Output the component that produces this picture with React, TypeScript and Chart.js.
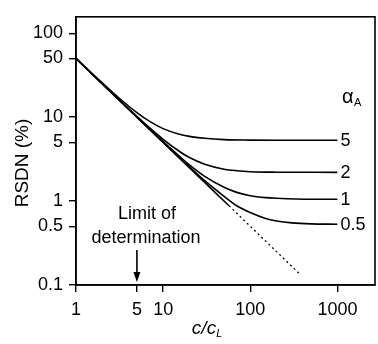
import React, { useEffect, useRef } from "react";
import { Chart, registerables } from "chart.js";

Chart.register(...registerables);

// Straight line RSDN = limit line (solid part, then dotted continuation)
const lineX = [1, 2, 5, 10, 20, 57];
const lineY = [50, 25, 10, 5, 2.5, 0.88];
const dottedX = [57, 100, 200, 370];
const dottedY = [0.88, 0.5, 0.25, 0.135];

// Curves for different alpha_A
const c5X = [1, 2, 3, 5, 7, 10, 15, 20, 30, 50, 100, 200, 1000];
const c5Y = [50.3, 25.6, 17.5, 11.3, 8.9, 7.3, 6.3, 5.9, 5.6, 5.4, 5.33, 5.3, 5.3];
const c2X = [1, 2, 5, 7, 10, 15, 20, 30, 50, 70, 100, 200, 1000];
const c2Y = [50, 25.1, 10.2, 7.45, 5.45, 3.98, 3.3, 2.75, 2.4, 2.3, 2.24, 2.21, 2.2];
const c1X = [1, 5, 10, 15, 20, 30, 50, 70, 100, 150, 200, 500, 1000];
const c1Y = [50, 10.05, 5.1, 3.5, 2.7, 1.97, 1.46, 1.27, 1.16, 1.1, 1.08, 1.05, 1.05];
const c05X = [1, 5, 10, 15, 20, 30, 50, 70, 100, 150, 200, 300, 500, 1000];
const c05Y = [50, 10, 5.03, 3.37, 2.56, 1.75, 1.14, 0.88, 0.73, 0.62, 0.58, 0.55, 0.535, 0.53];

const curveLabels = ["5", "2", "1", "0.5"];
const curveEndY = [5.3, 2.2, 1.05, 0.53];

const xTicks = [1, 5, 10, 100, 1000];
const yTicks = [0.1, 0.5, 1, 5, 10, 50, 100];

const FONT = "'Liberation Sans', Arial, sans-serif";

const zip = (xs: number[], ys: number[]) => xs.map((x, i) => ({ x, y: ys[i] }));

export default function App() {
  const ref = useRef<HTMLCanvasElement>(null);

  useEffect(() => {
    const canvas = ref.current!;
    const common = {
      borderColor: "#000",
      backgroundColor: "#000",
      pointRadius: 0,
      borderWidth: 1.6,
      fill: false,
      cubicInterpolationMode: "monotone" as const,
    };

    const annot = {
      id: "annot",
      afterDraw(chart: any) {
        const { ctx, chartArea, scales } = chart;
        const xs = scales.x;
        const ys = scales.y;
        ctx.save();
        // frame
        ctx.strokeStyle = "#000";
        ctx.lineWidth = 1.6;
        ctx.strokeRect(chartArea.left, chartArea.top, chartArea.right - chartArea.left, chartArea.bottom - chartArea.top);

        ctx.fillStyle = "#000";
        ctx.font = `18px ${FONT}`;
        ctx.textAlign = "left";
        ctx.textBaseline = "middle";
        const xEnd = xs.getPixelForValue(1000) + 3;
        curveLabels.forEach((t, i) => {
          ctx.fillText(t, xEnd, ys.getPixelForValue(curveEndY[i]) + 1);
        });
        // alpha_A
        ctx.font = `20px ${FONT}`;
        ctx.fillText("α", 342, 97);
        ctx.font = `11px ${FONT}`;
        ctx.fillText("A", 354, 103);

        // Limit of determination
        ctx.font = `18px ${FONT}`;
        ctx.textAlign = "center";
        ctx.fillText("Limit of", 147, 214);
        ctx.fillText("determination", 146, 238);
        const ax = xs.getPixelForValue(5);
        ctx.beginPath();
        ctx.moveTo(ax, 250);
        ctx.lineTo(ax, 277);
        ctx.stroke();
        ctx.beginPath();
        ctx.moveTo(ax - 3.5, 272);
        ctx.lineTo(ax + 3.5, 272);
        ctx.lineTo(ax, 282);
        ctx.closePath();
        ctx.fill();

        // Axis titles
        ctx.save();
        ctx.translate(23, 163);
        ctx.rotate(-Math.PI / 2);
        ctx.font = `19px ${FONT}`;
        ctx.textAlign = "center";
        ctx.fillText("RSDN (%)", 0, 0);
        ctx.restore();

        ctx.font = `italic 19px ${FONT}`;
        ctx.textAlign = "left";
        const w = ctx.measureText("c/c").width;
        const sx = 207 - (w + 6) / 2;
        ctx.fillText("c/c", sx, 329);
        ctx.font = `italic 11px ${FONT}`;
        ctx.fillText("L", sx + w, 334);
        ctx.restore();
      },
    };

    const chart = new Chart(canvas, {
      type: "line",
      data: {
        datasets: [
          { ...common, data: zip(lineX, lineY) },
          { ...common, data: zip(dottedX, dottedY), borderWidth: 1.3, borderDash: [2, 3] },
          { ...common, data: zip(c5X, c5Y) },
          { ...common, data: zip(c2X, c2Y) },
          { ...common, data: zip(c1X, c1Y) },
          { ...common, data: zip(c05X, c05Y) },
        ],
      },
      options: {
        animation: false,
        responsive: false,
        layout: { padding: { top: 7, right: 3, left: 0, bottom: 0 } },
        plugins: { legend: { display: false }, tooltip: { enabled: false } },
        scales: {
          x: {
            type: "logarithmic",
            min: 1,
            max: 2700,
            afterBuildTicks: (s: any) => {
              s.ticks = xTicks.map((v) => ({ value: v }));
            },
            afterFit: (s: any) => {
              s.height = 59;
            },
            grid: { display: true, drawOnChartArea: false, drawTicks: true, tickLength: 7, color: "#000", lineWidth: 1.4 },
            border: { display: true, color: "#000", width: 1.6 },
            ticks: {
              autoSkip: false,
              maxRotation: 0,
              padding: 7,
              color: "#000",
              font: { family: FONT, size: 18 },
              callback: (v: any) => String(v),
            },
          },
          y: {
            type: "logarithmic",
            min: 0.1,
            max: 157,
            afterBuildTicks: (s: any) => {
              s.ticks = yTicks.map((v) => ({ value: v }));
            },
            afterFit: (s: any) => {
              s.width = 76;
            },
            grid: { display: true, drawOnChartArea: false, drawTicks: true, tickLength: 7, color: "#000", lineWidth: 1.4 },
            border: { display: true, color: "#000", width: 1.6 },
            ticks: {
              autoSkip: false,
              padding: 6,
              color: "#000",
              font: { family: FONT, size: 18 },
              callback: (v: any) => String(v),
            },
          },
        },
      },
      plugins: [annot],
    } as any);
    return () => chart.destroy();
  }, []);

  return (
    <div style={{ position: "fixed", left: 0, top: 0, width: 378, height: 344, background: "#fff" }}>
      <canvas ref={ref} width={378} height={344} style={{ width: 378, height: 344, display: "block" }} />
    </div>
  );
}
